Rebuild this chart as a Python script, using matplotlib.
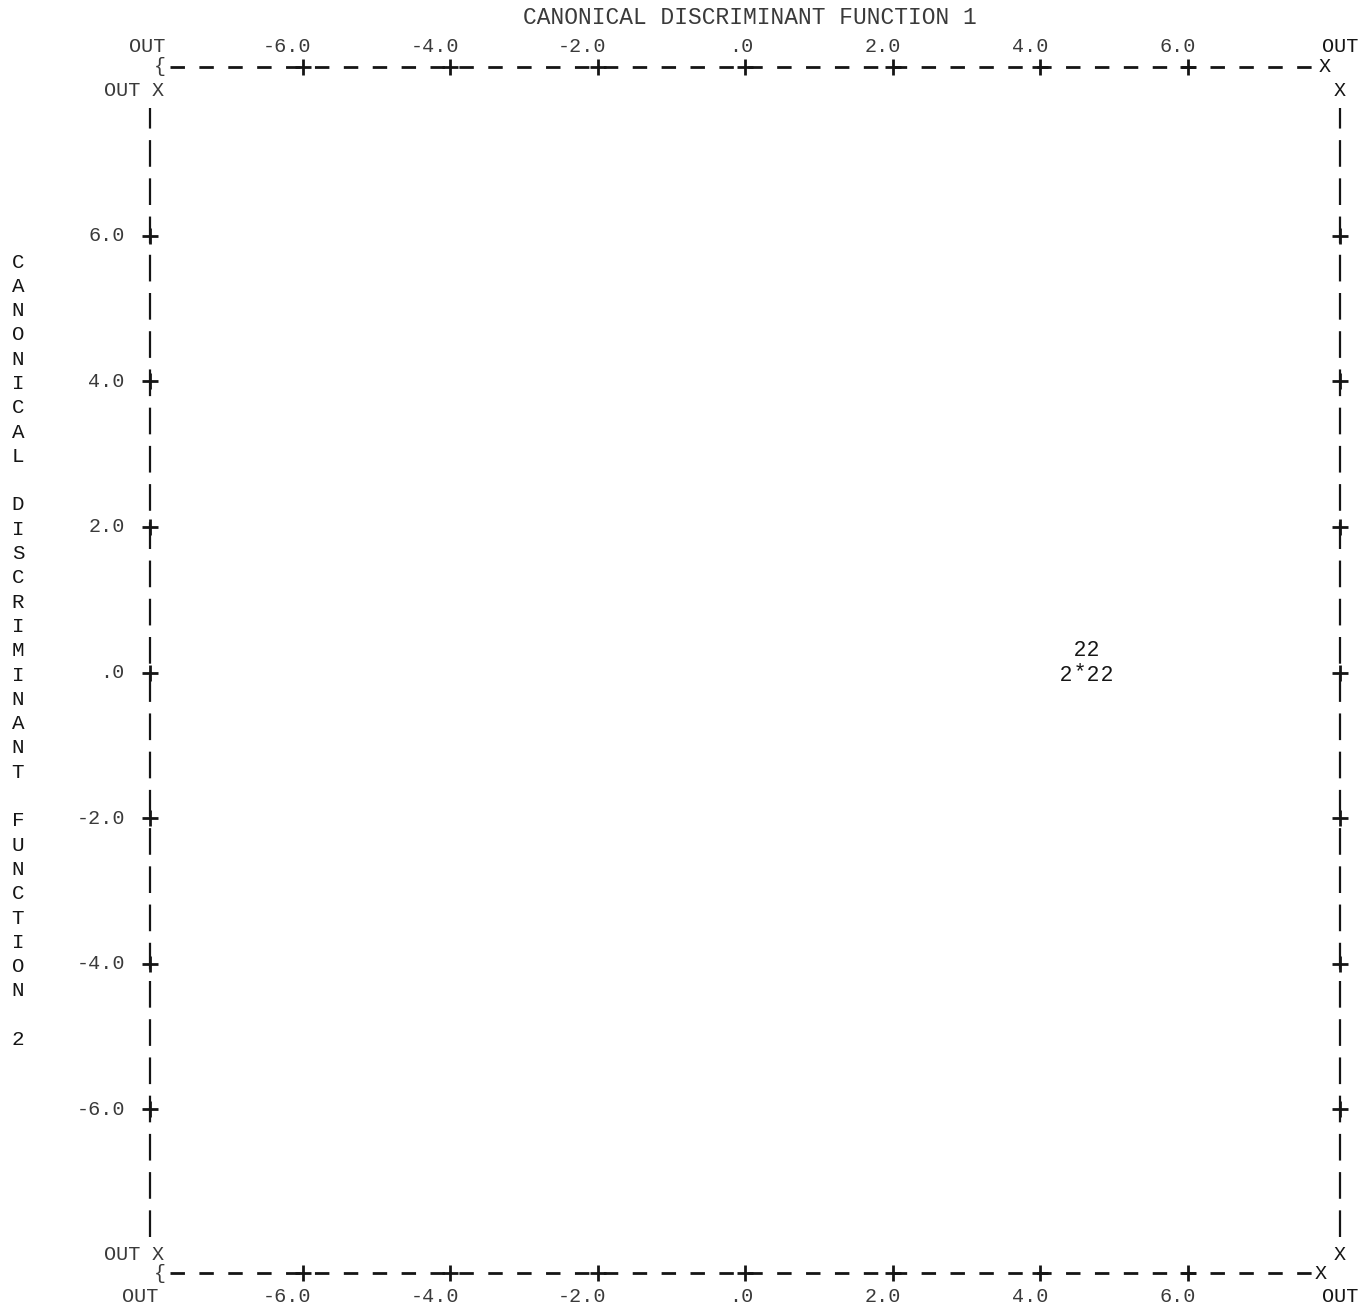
import matplotlib.pyplot as plt

# axis scale of the printer plot (both functions)
ticks = [-6, -4, -2, 0, 2, 4, 6]
tick_labels = ['-6.0', '-4.0', '-2.0', '.0', '2.0', '4.0', '6.0']
out_label = 'OUT'
lim = 8

x_title = 'CANONICAL DISCRIMINANT FUNCTION 1'
y_title = 'CANONICAL DISCRIMINANT FUNCTION 2'

# group 2 cases and the group centroid (*)
case_x = [4.54, 4.72, 4.35, 4.72, 4.91]
case_y = [0.30, 0.30, -0.04, -0.04, -0.04]
case_sym = ['2', '2', '2', '2', '2']
centroid_x = [4.54]
centroid_y = [-0.04]

ink = '#151515'
faded = '#3a3a3a'
mono = 'Liberation Mono'

fig = plt.figure(figsize=(13.67, 13.12), dpi=100)
fig.patch.set_facecolor('white')
ax = fig.add_axes([155 / 1367, 57 / 1312, 1180 / 1367, 1165 / 1312])
ax.set_xlim(-lim, lim)
ax.set_ylim(-lim, lim)
ax.axis('off')

top_y, bot_y = 8.32, -8.25
left_x, right_x = -8.07, 8.07

# horizontal borders made of printed dashes
for yy in (top_y, bot_y):
    ax.plot([-7.8, 7.7], [yy, yy], color=ink, lw=2.0, dashes=(5.2, 5.2),
            dash_capstyle='butt', clip_on=False)
    ax.plot(ticks, [yy] * len(ticks), ls='none', marker='+', ms=11, mew=2.0,
            color=ink, clip_on=False)

# vertical borders made of printed bars
for xx in (left_x, right_x):
    ax.plot([xx, xx], [-7.75, 7.75], color=ink, lw=1.6, dashes=(12, 5.2),
            dash_capstyle='butt', clip_on=False)
    ax.plot([xx] * len(ticks), ticks, ls='none', marker='+', ms=11, mew=2.0,
            color=ink, clip_on=False)

txt = dict(family=mono, fontsize=14.5, clip_on=False)

# tick labels, top and bottom
for t, lab in zip(ticks, tick_labels):
    ax.text(t + 0.12, 8.6, lab, ha='right', va='center', color=faded, **txt)
    ax.text(t + 0.12, -8.57, lab, ha='right', va='center', color=faded, **txt)
    ax.text(-8.41, t, lab, ha='right', va='center', color=faded, **txt)

ax.text(-8.1, 8.6, out_label, ha='center', va='center', color=faded, **txt)
ax.text(8.07, 8.6, out_label, ha='center', va='center', color=ink, **txt)
ax.text(-8.2, -8.57, out_label, ha='center', va='center', color=faded, **txt)
ax.text(8.07, -8.57, out_label, ha='center', va='center', color=ink, **txt)

# corners
ax.text(-7.93, top_y, '{', ha='center', va='center', color=faded, **txt)
ax.text(-7.93, bot_y, '{', ha='center', va='center', color=faded, **txt)
ax.text(7.86, top_y, 'X', ha='center', va='center', color=ink, **txt)
ax.text(7.80, bot_y, 'X', ha='center', va='center', color=ink, **txt)
for yy in (-lim, lim):
    ax.text(-8.2, yy, out_label, ha='right', va='center', color=faded, **txt)
    ax.text(-7.97, yy, 'X', ha='center', va='center', color=faded, **txt)
    ax.text(right_x, yy, 'X', ha='center', va='center', color=ink, **txt)

# group 2 cases and centroid
for x, y, s in zip(case_x, case_y, case_sym):
    ax.text(x, y, s, ha='center', va='center', family='Liberation Sans',
            fontsize=15.5, color=ink)
for x, y in zip(centroid_x, centroid_y):
    ax.text(x, y + 0.05, '*', ha='center', va='center', family='Liberation Sans',
            fontsize=15.5, color=ink)

# titles
fig.text(750 / 1367, 1 - 18 / 1312, x_title, ha='center', va='center',
         family=mono, fontsize=16.5, color=faded)
for i, ch in enumerate(y_title):
    fig.text(18 / 1367, 1 - (262 + 24.3 * i) / 1312, ch, ha='center',
             va='center', family=mono, fontsize=15, color=ink)

fig.savefig('out.png', dpi=100, facecolor='white')
